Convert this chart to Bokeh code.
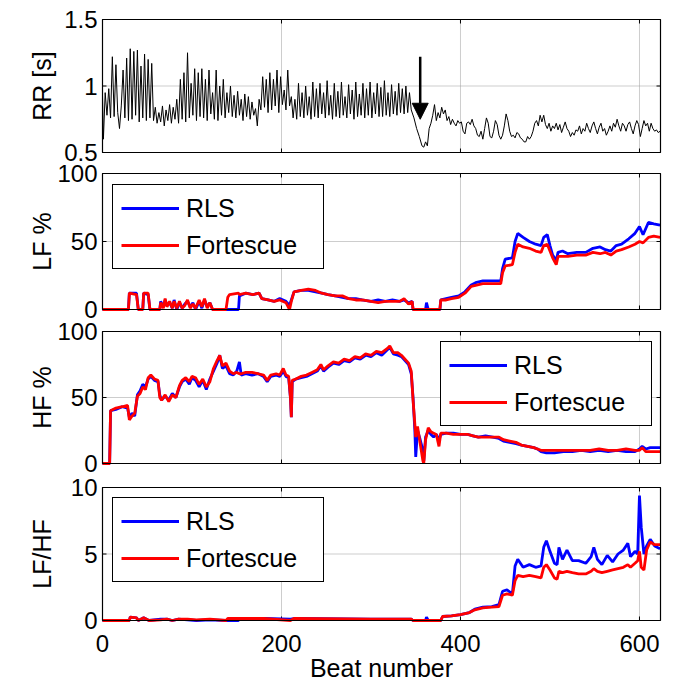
import math
from bokeh.plotting import figure
from bokeh.models import (Range1d, Legend, LegendItem, Arrow, NormalHead, BoxAnnotation)
from bokeh.core.properties import value
from bokeh.embed import file_html
from bokeh.resources import INLINE

FONT = "Liberation Sans"

# ---------------- data ----------------
x_ticks = [0, 200, 400, 600]
x_tick_labels = ["0", "200", "400", "600"]
x_max = 623.5
x_title = "Beat number"

rr_beat = [0, 1, 3, 5, 7, 9, 11, 13, 15, 17, 19, 21, 23, 25, 27, 29, 31, 33, 35, 37, 39, 41, 43, 45, 47, 49,
           51, 53, 55, 57, 59, 61, 63, 65, 67, 69, 71, 73, 75, 77, 79, 81, 83, 85, 87, 89, 91, 93, 95, 97, 99,
           101, 103, 105, 107, 109, 111, 113, 115, 117, 119, 121, 123, 125, 127, 129, 131, 133, 135, 137, 139,
           141, 143, 145, 147, 149, 151, 153, 155, 157, 159, 161, 163, 165, 167, 169, 171, 173, 175, 177, 179,
           181, 183, 185, 187, 189, 191, 193, 195, 197, 199, 201, 203, 205, 207, 209, 211, 213, 215, 217, 219,
           221, 223, 225, 227, 229, 231, 233, 235, 237, 239, 241, 243, 245, 247, 249, 251, 253, 255, 257, 259,
           261, 263, 265, 267, 269, 271, 273, 275, 277, 279, 281, 283, 285, 287, 289, 291, 293, 295, 297, 299,
           301, 303, 305, 307, 309, 311, 313, 315, 317, 319, 321, 323, 325, 327, 329, 331, 333, 335, 337, 339,
           341, 343, 345, 348, 351, 354, 357, 359, 361, 363, 365, 367, 369, 371, 373, 375, 377, 379, 381, 383,
           385, 387, 389, 391, 393, 395, 397, 399, 401, 403, 405, 407, 409, 411, 413, 415, 417, 419, 421, 423,
           425, 427, 429, 431, 433, 435, 437, 439, 441, 443, 445, 447, 449, 451, 453, 455, 457, 459, 461, 463,
           465, 467, 469, 471, 473, 475, 477, 479, 481, 483, 485, 487, 489, 491, 493, 495, 497, 499, 501, 503,
           505, 507, 509, 511, 513, 515, 517, 519, 521, 523, 525, 527, 529, 531, 533, 535, 537, 539, 541, 543,
           545, 547, 549, 551, 553, 555, 557, 559, 561, 563, 565, 567, 569, 571, 573, 575, 577, 579, 581, 583,
           585, 587, 589, 591, 593, 595, 597, 599, 601, 603, 605, 607, 609, 611, 613, 615, 617, 619, 621, 623]
rr_value = [0.93, 0.60, 0.95, 0.78, 0.98, 0.76, 1.22, 0.77, 1.16, 0.80, 0.68, 0.85, 1.12, 0.76, 1.21, 0.74,
            1.28, 0.75, 1.26, 0.78, 1.27, 0.73, 1.15, 0.76, 1.24, 0.74, 1.20, 0.76, 1.17, 0.74, 0.84, 0.72,
            0.80, 0.73, 0.85, 0.70, 0.82, 0.74, 0.86, 0.72, 0.84, 0.75, 0.90, 0.72, 1.05, 0.75, 1.10, 0.73,
            1.25, 0.76, 1.02, 0.78, 1.13, 0.74, 1.10, 0.77, 1.13, 0.76, 1.05, 0.74, 1.12, 0.79, 0.95, 0.75,
            1.12, 0.74, 1.00, 0.78, 1.05, 0.76, 0.95, 0.80, 1.00, 0.77, 0.93, 0.76, 0.96, 0.78, 0.90, 0.74,
            0.94, 0.77, 0.92, 0.75, 0.88, 0.78, 0.83, 0.70, 0.90, 0.82, 1.07, 0.84, 1.05, 0.80, 1.10, 0.82,
            1.05, 0.85, 1.12, 0.80, 1.07, 0.86, 0.97, 0.82, 1.12, 0.85, 0.92, 0.76, 0.90, 0.75, 1.02, 0.77,
            0.95, 0.76, 1.00, 0.78, 0.92, 0.75, 1.03, 0.77, 0.98, 0.76, 1.02, 0.79, 0.95, 0.76, 1.04, 0.78,
            0.93, 0.75, 1.02, 0.77, 0.96, 0.76, 1.03, 0.78, 0.92, 0.76, 1.01, 0.79, 0.97, 0.75, 1.03, 0.77,
            0.94, 0.78, 1.02, 0.76, 0.98, 0.78, 1.03, 0.76, 0.95, 0.79, 1.02, 0.77, 0.99, 0.77, 1.04, 0.78,
            0.95, 0.77, 1.01, 0.79, 0.96, 0.78, 1.02, 0.80, 0.98, 0.79, 1.00, 0.80, 0.95, 0.82, 0.76, 0.68,
            0.62, 0.55, 0.54, 0.58, 0.55, 0.68, 0.72, 0.78, 0.86, 0.74, 0.80, 0.76, 0.84, 0.79, 0.82, 0.74,
            0.77, 0.71, 0.75, 0.72, 0.70, 0.74, 0.72, 0.73, 0.66, 0.64, 0.72, 0.73, 0.71, 0.75, 0.70, 0.68,
            0.63, 0.62, 0.66, 0.60, 0.68, 0.76, 0.72, 0.62, 0.61, 0.66, 0.74, 0.71, 0.63, 0.60, 0.63, 0.70,
            0.79, 0.74, 0.66, 0.62, 0.63, 0.61, 0.65, 0.64, 0.61, 0.60, 0.58, 0.58, 0.62, 0.60, 0.62, 0.66,
            0.72, 0.74, 0.70, 0.78, 0.73, 0.78, 0.71, 0.68, 0.72, 0.66, 0.70, 0.68, 0.72, 0.67, 0.71, 0.65,
            0.69, 0.73, 0.68, 0.66, 0.62, 0.65, 0.63, 0.67, 0.66, 0.70, 0.64, 0.68, 0.66, 0.72, 0.68, 0.65,
            0.70, 0.73, 0.68, 0.64, 0.69, 0.72, 0.66, 0.68, 0.63, 0.66, 0.70, 0.66, 0.72, 0.69, 0.75, 0.70,
            0.66, 0.72, 0.70, 0.66, 0.71, 0.73, 0.68, 0.64, 0.70, 0.74, 0.71, 0.62, 0.68, 0.74, 0.70, 0.72,
            0.66, 0.72, 0.68, 0.66, 0.67, 0.65, 0.66]

lf_beat = [0, 29, 30, 38, 40, 45, 46, 51, 53, 64, 65, 68, 70, 72, 75, 78, 80, 83, 86, 89, 92, 95, 98, 101,
           104, 108, 111, 114, 117, 120, 123, 138, 140, 142, 152, 153, 160, 168, 175, 178, 185, 192, 198, 205,
           209, 211, 214, 222, 230, 238, 245, 252, 260, 268, 275, 283, 290, 300, 308, 316, 324, 332, 337, 342,
           346, 347, 361, 362, 364, 377, 378, 384, 390, 398, 405, 412, 418, 425, 435, 445, 447, 450, 458, 461,
           464, 470, 477, 484, 490, 493, 497, 500, 503, 507, 509, 514, 520, 530, 540, 548, 556, 562, 568, 574,
           580, 588, 595, 600, 604, 610, 616, 623]
lf_rls = [0, 0, 12, 12, 0, 0, 12, 11, 0, 0, 6, 2, 7, 3, 5, 1, 7, 0, 5, 1, 4, 6, 2, 5,
          0, 6, 1, 7, 2, 5, 0, 0, 0, 0, 0, 10, 12, 11, 12, 8, 7, 6, 8, 6,
          3, 7, 13, 14, 14, 13, 12, 11, 10, 9, 8, 8, 7, 6, 7, 6, 7, 6, 7, 5,
          6, 0, 0, 5, 0, 0, 7, 8, 9, 10, 13, 18, 20, 21, 21, 21, 30, 37, 38, 50,
          56, 53, 50, 48, 47, 53, 55, 47, 40, 36, 42, 43, 41, 42, 42, 45, 46, 44, 43, 47,
          48, 52, 56, 61, 55, 64, 63, 62]
lf_fortescue = [0, 0, 12, 11, 0, 0, 12, 12, 0, 0, 5, 1, 8, 2, 6, 1, 6, 1, 6, 1, 3, 7, 1, 4,
                1, 7, 2, 8, 1, 5, 0, 0, 9, 11, 12, 11, 12, 11, 12, 8, 7, 6, 7, 5,
                0, 6, 13, 14, 15, 14, 12, 11, 10, 10, 8, 7, 7, 6, 5, 6, 6, 6, 8, 4,
                6, 0, 0, 0, 0, 0, 7, 7, 8, 9, 12, 17, 18, 19, 19, 19, 27, 32, 33, 42,
                48, 46, 45, 43, 42, 47, 48, 43, 38, 33, 39, 39, 39, 40, 40, 42, 41, 42, 40, 43,
                44, 46, 48, 50, 49, 53, 54, 53]

hf_beat = [0, 8, 9, 15, 22, 28, 30, 33, 36, 39, 42, 45, 48, 51, 54, 58, 62, 64, 66, 70, 74, 78, 82, 86,
           89, 93, 97, 100, 104, 108, 112, 116, 120, 124, 128, 131, 134, 138, 142, 146, 150, 153, 155, 160,
           167, 174, 180, 184, 188, 194, 198, 202, 205, 208, 210, 211, 212, 216, 222, 228, 234, 240, 244,
           247, 252, 258, 264, 270, 276, 282, 288, 294, 300, 306, 312, 318, 321, 325, 330, 334, 338, 342,
           345, 347, 349, 350, 352, 355, 358, 359, 361, 364, 367, 370, 373, 376, 378, 384, 392, 400, 408,
           414, 420, 428, 436, 443, 448, 455, 462, 468, 475, 482, 486, 490, 496, 505, 515, 525, 535, 545,
           555, 565, 575, 585, 595, 600, 603, 607, 612, 618, 623]
hf_rls = [0, 0, 40, 41, 43, 42, 35, 38, 36, 52, 55, 60, 58, 64, 66, 63, 62, 52, 48, 51, 48, 53, 50, 58,
          62, 64, 60, 65, 63, 58, 63, 56, 64, 70, 76, 82, 72, 74, 68, 67, 70, 77, 67, 68,
          67, 68, 66, 62, 66, 67, 66, 70, 66, 65, 50, 35, 62, 64, 65, 66, 68, 70, 74,
          70, 73, 76, 75, 78, 77, 80, 79, 82, 81, 84, 82, 86, 88, 83, 82, 81, 78, 75,
          68, 50, 25, 5, 25, 18, 10, 2, 20, 25, 22, 20, 22, 18, 22, 23, 23, 22, 22,
          21, 20, 21, 20, 19, 17, 16, 15, 14, 13, 12, 11, 9, 8, 8, 9, 9, 10, 9,
          10, 9, 10, 9, 9, 11, 13, 11, 12, 12, 12]
hf_fortescue = [0, 0, 40, 42, 43, 44, 33, 36, 38, 51, 53, 58, 56, 65, 67, 64, 63, 50, 48, 52, 47, 52, 50, 59,
                63, 65, 62, 66, 65, 60, 64, 58, 62, 72, 78, 82, 74, 76, 70, 68, 69, 68, 68, 69,
                69, 68, 67, 63, 67, 68, 67, 72, 67, 66, 50, 35, 63, 64, 66, 67, 69, 71, 75,
                71, 74, 77, 76, 79, 78, 81, 80, 83, 82, 85, 84, 87, 89, 84, 84, 82, 79, 76,
                70, 48, 30, 20, 28, 15, 2, 0, 18, 27, 24, 23, 22, 13, 23, 23, 22, 22, 22,
                21, 20, 20, 20, 20, 18, 17, 16, 14, 13, 12, 11, 10, 10, 10, 10, 10, 10, 10,
                11, 10, 10, 11, 10, 10, 12, 9, 9, 9, 9]

ratio_beat = [0, 30, 31, 38, 40, 46, 52, 65, 72, 78, 85, 95, 105, 120, 138, 140, 152, 153, 180, 210, 214,
              300, 345, 347, 361, 362, 364, 378, 380, 390, 400, 410, 416, 425, 435, 443, 447, 452, 458, 461,
              464, 470, 477, 484, 490, 493, 496, 500, 505, 508, 510, 514, 519, 525, 532, 540, 546, 549, 553,
              558, 564, 570, 576, 582, 587, 590, 595, 598, 600, 602, 605, 608, 612, 617, 623]
ratio_rls = [0, 0, 0.25, 0.2, 0, 0.2, 0, 0.1, 0.1, 0.0, 0.1, 0.05, 0, 0.05, 0, 0, 0, 0.15, 0.15, 0.1, 0.15,
             0.1, 0.1, 0, 0, 0.25, 0, 0, 0.3, 0.35, 0.45, 0.6, 0.85, 1.0, 1.05, 1.2, 2.2, 2.3, 2.0, 4.1,
             4.6, 4.0, 4.2, 4.0, 4.1, 5.5, 6.0, 5.2, 4.3, 4.2, 5.5, 4.6, 5.3, 4.5, 4.5, 4.3, 4.8, 5.5, 4.6,
             4.2, 4.9, 4.4, 5.0, 5.3, 5.8, 4.8, 5.2, 5.0, 9.4, 7.0, 5.0, 5.6, 6.1, 5.6, 5.4]
ratio_fortescue = [0, 0, 0.25, 0.2, 0, 0.2, 0, 0.05, 0.1, 0.0, 0.1, 0.1, 0.05, 0.1, 0, 0.15, 0.15, 0.15, 0.15,
                   0.0, 0.15, 0.1, 0.1, 0, 0, 0, 0, 0, 0.3, 0.35, 0.45, 0.6, 0.8, 0.95, 1.0, 1.05, 1.9, 2.0,
                   1.9, 3.0, 3.4, 3.3, 3.4, 3.3, 3.2, 4.0, 4.2, 3.8, 3.2, 3.1, 3.7, 3.6, 3.7, 3.6, 3.5, 3.5,
                   3.7, 3.9, 3.7, 3.6, 3.7, 3.8, 3.9, 4.0, 4.2, 4.0, 4.3, 4.5, 5.2, 4.0, 3.8, 5.3, 5.9, 5.7,
                   5.7]

arrow_beat = 355
arrow_from = 1.22
arrow_to = 0.75

series_names = ["RLS", "Fortescue"]
series_colors = ["#0000ff", "#ff0000"]

panel_labels = ["RR [s]", "LF %", "HF %", "LF/HF"]
panel_ranges = [(0.5, 1.5), (0, 100), (0, 100), (0, 10)]
panel_ticks = [[0.5, 1, 1.5], [0, 50, 100], [0, 50, 100], [0, 5, 10]]
panel_tick_labels = [["0.5", "1", "1.5"], ["0", "50", "100"], ["0", "50", "100"], ["0", "5", "10"]]

# ---------------- layout geometry (canvas pixels) ----------------
W, H = 673, 692
AREA_LEFT, AREA_RIGHT = 102, 660          # plot boxes
AREA_BOTTOM = 620
panel_top = [19, 173, 331, 487]
panel_bottom = [152, 309, 463, 620]
legend_box = [None, (112, 269), (440, 426), (112, 582)]   # left, bottom of each legend box
TICK = 4
YTITLE_X = 41
YLABEL_GAP = 5
XLABEL_Y = 643
XTITLE_Y = 667

PX = x_max / (AREA_RIGHT - AREA_LEFT)     # data units per pixel on x

# the frame covers the whole canvas; the main y unit is "pixels above AREA_BOTTOM"
p = figure(frame_width=W, frame_height=H,
           x_range=Range1d(-AREA_LEFT * PX, x_max + (W - AREA_RIGHT) * PX),
           y_range=Range1d(AREA_BOTTOM - H, AREA_BOTTOM),
           x_axis_location=None, y_axis_location=None,
           output_backend="svg", toolbar_location=None,
           min_border_left=0, min_border_right=0, min_border_top=0, min_border_bottom=0)
p.background_fill_color = "white"
p.border_fill_color = "white"
p.outline_line_color = None
p.xgrid.visible = False
p.ygrid.visible = False

bands = [(AREA_BOTTOM - b, AREA_BOTTOM - t) for t, b in zip(panel_top, panel_bottom)]
for k, ((lo, hi), (b, t)) in enumerate(zip(panel_ranges, bands)):
    s = (hi - lo) / (t - b)
    p.extra_y_ranges[f"p{k}"] = Range1d(lo + (AREA_BOTTOM - H - b) * s, lo + (AREA_BOTTOM - b) * s)


def pos(k, v):
    lo, hi = panel_ranges[k]
    b, t = bands[k]
    return b + (v - lo) / (hi - lo) * (t - b)


# grid lines (dotted) inside each panel
gx0, gy0, gx1, gy1 = [], [], [], []
for k in range(4):
    b, t = bands[k]
    for xv in x_ticks[1:]:
        gx0.append(xv); gx1.append(xv); gy0.append(b); gy1.append(t)
    for v in panel_ticks[k][1:-1]:
        gx0.append(0); gx1.append(x_max); gy0.append(pos(k, v)); gy1.append(pos(k, v))
p.segment(gx0, gy0, gx1, gy1, line_color="#9a9a9a", line_width=1, line_dash="1 1")

# inward ticks on all four sides of every panel
tx0, ty0, tx1, ty1 = [], [], [], []
for k in range(4):
    b, t = bands[k]
    for xv in x_ticks:
        tx0 += [xv, xv]; tx1 += [xv, xv]; ty0 += [b, t]; ty1 += [b + TICK, t - TICK]
    for v in panel_ticks[k]:
        yp = pos(k, v)
        tx0 += [0, x_max]; tx1 += [TICK * PX, x_max - TICK * PX]; ty0 += [yp, yp]; ty1 += [yp, yp]
p.segment(tx0, ty0, tx1, ty1, line_color="black", line_width=1)

# y tick labels
ytl_x, ytl_y, ytl_t = [], [], []
for k in range(4):
    for v, lab in zip(panel_ticks[k], panel_tick_labels[k]):
        ytl_x.append(-YLABEL_GAP * PX); ytl_y.append(pos(k, v)); ytl_t.append(lab)
p.text(ytl_x, ytl_y, text=ytl_t, text_align="right", text_baseline="middle",
       text_font=value(FONT), text_font_size="24px", text_color="black")

# x tick labels and title
p.text(x_ticks, [AREA_BOTTOM - XLABEL_Y] * len(x_ticks), text=x_tick_labels, text_align="center",
       text_baseline="middle", text_font=value(FONT), text_font_size="24px", text_color="black")
p.text([x_max / 2], [AREA_BOTTOM - XTITLE_Y], text=[x_title], text_align="center",
       text_baseline="middle", text_font=value(FONT), text_font_size="25px", text_color="black")

# y titles
p.text([(YTITLE_X - AREA_LEFT) * PX] * 4, [(b + t) / 2 for b, t in bands], text=panel_labels,
       angle=math.pi / 2, text_align="center", text_baseline="middle",
       text_font=value(FONT), text_font_size="25px", text_color="black")

# data
p.line(rr_beat, rr_value, line_color="black", line_width=1, y_range_name="p0")
p.add_layout(Arrow(x_start=arrow_beat, y_start=arrow_from, x_end=arrow_beat, y_end=arrow_to,
                   y_range_name="p0", line_color="black", line_width=2.5,
                   end=NormalHead(size=16, fill_color="black", line_color="black")))

pairs = [(lf_beat, lf_rls, lf_fortescue), (hf_beat, hf_rls, hf_fortescue),
         (ratio_beat, ratio_rls, ratio_fortescue)]
for k, (beat, rls, fort) in enumerate(pairs, start=1):
    r1 = p.line(beat, rls, line_color=series_colors[0], line_width=2.8, y_range_name=f"p{k}")
    r2 = p.line(beat, fort, line_color=series_colors[1], line_width=2.8, y_range_name=f"p{k}")
    lx, lb = legend_box[k]
    leg = Legend(items=[LegendItem(label=series_names[0], renderers=[r1]),
                        LegendItem(label=series_names[1], renderers=[r2])],
                 location=(lx, H - lb))
    leg.border_line_color = "black"
    leg.border_line_width = 1
    leg.border_line_alpha = 1
    leg.background_fill_color = "white"
    leg.background_fill_alpha = 1
    leg.label_text_font = FONT
    leg.label_text_font_size = "25px"
    leg.label_text_color = "black"
    leg.glyph_width = 58
    leg.glyph_height = 30
    leg.label_height = 30
    leg.label_width = 129
    leg.spacing = 7
    leg.padding = 8
    leg.label_standoff = 7
    leg.margin = 0
    p.add_layout(leg)

# panel boxes
for k in range(4):
    b, t = bands[k]
    p.add_layout(BoxAnnotation(left=0, right=x_max, bottom=b, top=t, fill_alpha=0,
                               line_color="black", line_width=1.2, line_alpha=1))

open("out.html", "w").write(file_html(p, INLINE))
